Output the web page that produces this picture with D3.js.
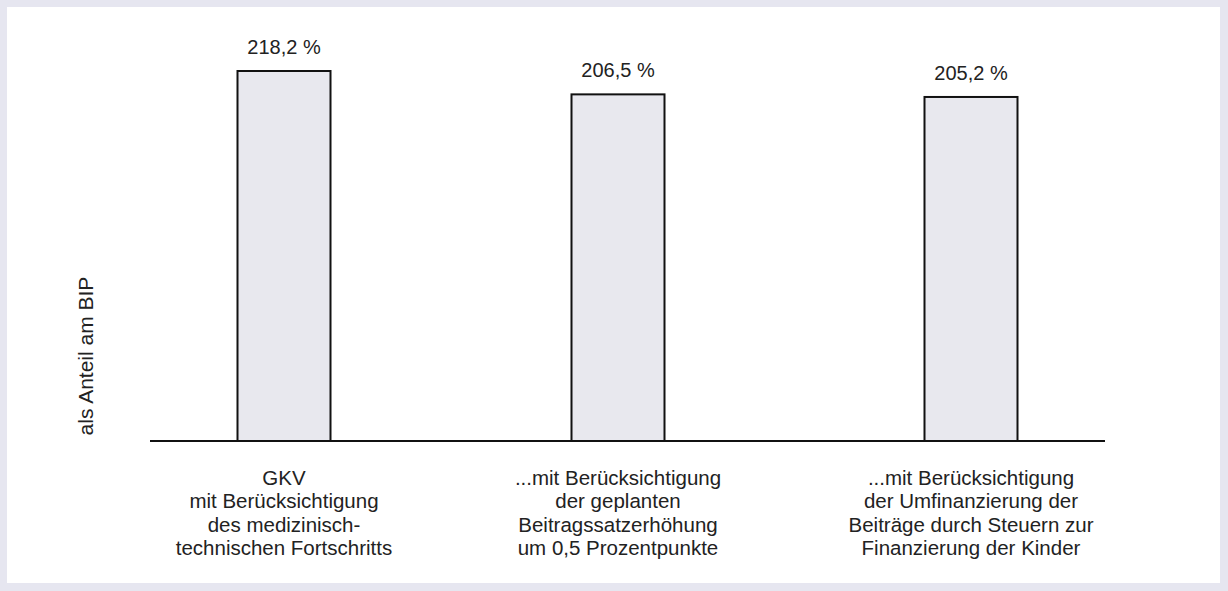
<!DOCTYPE html>
<html><head><meta charset="utf-8">
<script src="https://cdn.jsdelivr.net/npm/d3@7"></script>
<style>
html,body{margin:0;padding:0;background:#e6e6f0;}
svg{display:block;font-family:"Liberation Sans",Arial,sans-serif;}
</style></head>
<body><svg id="chart" width="1228" height="591"></svg>
<script>
// chart data
const categories = [
  ["GKV","mit Berücksichtigung","des medizinisch-","technischen Fortschritts"],
  ["...mit Berücksichtigung","der geplanten","Beitragssatzerhöhung","um 0,5 Prozentpunkte"],
  ["...mit Berücksichtigung","der Umfinanzierung der","Beiträge durch Steuern zur","Finanzierung der Kinder"]
];
const values = [218.2, 206.5, 205.2];
const valueLabels = ["218,2 %","206,5 %","205,2 %"];
const yTitle = "als Anteil am BIP";

const svg = d3.select("#chart");
svg.append("rect").attr("x",7).attr("y",7).attr("width",1213).attr("height",576).attr("fill","#fff");

const x0 = 150, x1 = 1105, baseY = 441, bw = 93;
const x = d3.scaleOrdinal().domain(d3.range(values.length)).range([284, 618, 971]);
const y = d3.scaleLinear().domain([33, 218.2]).range([baseY, 71]);

const g = svg.append("g");
g.selectAll("rect.bar").data(values).join("rect").attr("class","bar")
  .attr("x",(d,i)=>x(i)-bw/2).attr("width",bw)
  .attr("y",d=>y(d)).attr("height",d=>baseY-y(d))
  .attr("fill","#e8e8ee").attr("stroke","#111").attr("stroke-width",2);

g.append("line").attr("x1",x0).attr("x2",x1).attr("y1",baseY).attr("y2",baseY)
  .attr("stroke","#111").attr("stroke-width",2);

g.selectAll("text.val").data(values).join("text").attr("class","val")
  .attr("x",(d,i)=>x(i)).attr("y",d=>y(d)-17)
  .attr("text-anchor","middle").attr("font-size",20).attr("fill","#222")
  .text((d,i)=>valueLabels[i]);

categories.forEach((lines,i)=>{
  const t = g.append("text").attr("text-anchor","middle").attr("font-size",20.5).attr("fill","#222");
  lines.forEach((l,j)=>t.append("tspan").attr("x",x(i)).attr("y",485+j*23.4).text(l));
});

g.append("text").attr("transform","translate(93,356) rotate(-90)")
  .attr("text-anchor","middle").attr("font-size",21).attr("fill","#222").text(yTitle);
</script></body></html>
